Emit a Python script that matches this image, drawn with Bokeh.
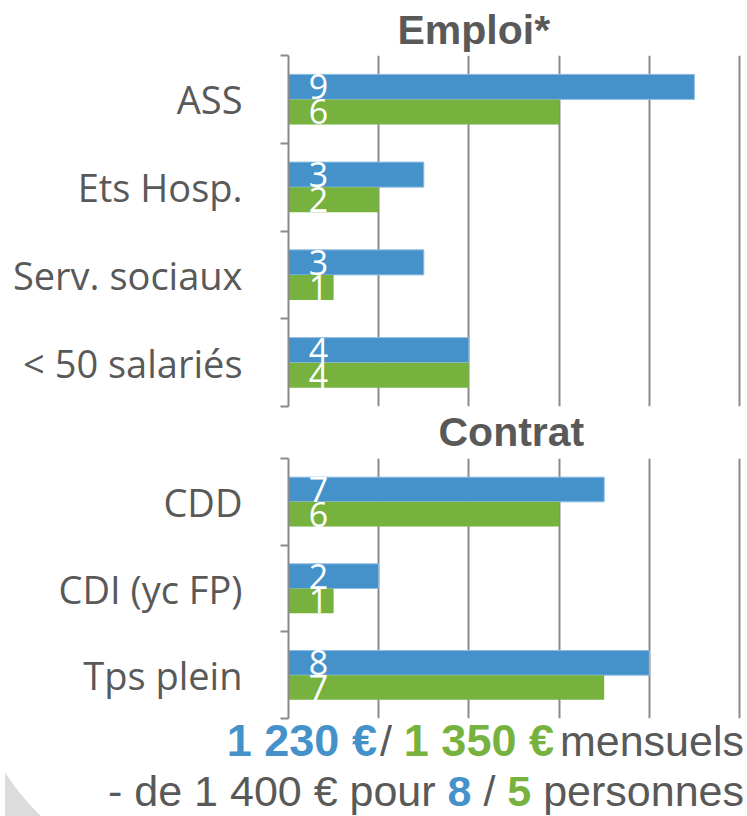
from bokeh.plotting import figure
from bokeh.models import FixedTicker, Range1d, ColumnDataSource, Div, Title
from bokeh.layouts import column
from bokeh.core.properties import value
from bokeh.embed import file_html
from bokeh.resources import INLINE

# ---------------- data ----------------
emploi_cats = ["ASS", "Ets Hosp.", "Serv. sociaux", "< 50 salariés"]
emploi_blue = [9, 3, 3, 4]
emploi_green = [6, 2, 1, 4]

contrat_cats = ["CDD", "CDI (yc FP)", "Tps plein"]
contrat_blue = [7, 2, 8]
contrat_green = [6, 1, 7]

grid_ticks = [2, 4, 6, 8, 10]

salaire_bleu = "1 230 €"
salaire_vert = "1 350 €"
nb_bleu = "8"
nb_vert = "5"

BLUE = "#4592CA"
GREEN = "#77B23F"
GRAY_TXT = "#595959"
GRID = "#8a8a8a"
W = 747
LEFT = 288
RIGHT = 6


def style_title(t, offset, standoff):
    t.align = "left"
    t.offset = offset
    t.standoff = standoff
    t.text_font = "Liberation Sans"
    t.text_font_size = "41px"
    t.text_font_style = "bold"
    t.text_color = GRAY_TXT


def panel(cats, blue, green, title, top, frame_h, bottom):
    n = len(cats)
    frame_w = W - LEFT - RIGHT
    xend = frame_w / 45.1
    p = figure(width=W, height=top + frame_h + bottom, x_range=Range1d(0, xend),
               y_range=Range1d(0, n), output_backend="svg", toolbar_location=None,
               min_border_left=LEFT, min_border_right=RIGHT, min_border_top=top,
               min_border_bottom=bottom, title=title)
    p.outline_line_color = None

    centers = [n - 1 - i + 0.5 for i in range(n)]
    hb = 0.285
    src = ColumnDataSource(dict(
        yb=[c + hb / 2 for c in centers], yg=[c - hb / 2 for c in centers],
        blue=blue, green=green,
        tb=[str(v) for v in blue], tg=[str(v) for v in green],
        x0=[0] * n))
    p.hbar(y="yb", right="blue", left=0, height=hb, source=src,
           fill_color=BLUE, line_color="#8fbde3", line_width=1)
    p.hbar(y="yg", right="green", left=0, height=hb, source=src,
           fill_color=GREEN, line_color=None)
    for ycol, tcol in (("yb", "tb"), ("yg", "tg")):
        p.text(x="x0", y=ycol, text=tcol, source=src, x_offset=30,
               text_align="center", text_baseline="middle",
               text_font=value("Open Sans"), text_font_size="34px",
               text_color="white")

    p.xaxis.visible = False
    p.xgrid.ticker = FixedTicker(ticks=grid_ticks)
    p.xgrid.grid_line_color = GRID
    p.xgrid.grid_line_width = 2
    p.ygrid.visible = False

    ax = p.yaxis[0]
    ax.ticker = FixedTicker(ticks=centers, minor_ticks=list(range(n + 1)))
    ax.major_label_overrides = {c: cat for c, cat in zip(centers, cats)}
    ax.major_tick_out = 0
    ax.major_tick_in = 0
    ax.minor_tick_out = 8
    ax.minor_tick_in = 0
    ax.minor_tick_line_color = GRID
    ax.minor_tick_line_width = 2
    ax.axis_line_color = GRID
    ax.axis_line_width = 2
    ax.major_label_standoff = 38
    ax.major_label_text_font = "Open Sans"
    ax.major_label_text_font_size = "38px"
    ax.major_label_text_color = GRAY_TXT
    return p


# top panel carries both section titles: "Emploi*" above, "Contrat" below
p1 = panel(emploi_cats, emploi_blue, emploi_green, "Emploi*", 55, 351, 51)
style_title(p1.title, 109, 5)
t2 = Title(text="Contrat")
style_title(t2, 150, 0)
p1.add_layout(t2, "below")

p2 = panel(contrat_cats, contrat_blue, contrat_green, None, 1, 260, 2)

# ---------------- bottom text ----------------
H_TXT = 96
html = f"""
<div style="position:relative;width:{W}px;height:{H_TXT}px;
     font-family:'Liberation Sans',Arial,sans-serif;font-size:43px;color:{GRAY_TXT};">
  <div style="position:absolute;left:0;top:0;width:{W}px;height:{H_TXT}px;overflow:hidden;">
    <div style="position:absolute;left:0;top:40px;width:70px;height:56px;background:#dcdcdc;"></div>
    <div style="position:absolute;left:-37px;top:-317px;width:474px;height:474px;
         border-radius:50%;background:white;"></div>
  </div>
  <div style="position:absolute;right:8px;top:-6px;line-height:43px;white-space:nowrap;">
    <b style="color:{BLUE};font-size:45px">{salaire_bleu}</b><span style="margin-left:3px">/&nbsp;</span><b
      style="color:{GREEN};font-size:45px">{salaire_vert}</b><span style="margin-left:6px">mensuels</span>
  </div>
  <div style="position:absolute;right:8px;top:45px;line-height:43px;white-space:nowrap;">- de 1 400 € pour <b
      style="color:{BLUE}">{nb_bleu}</b> / <b style="color:{GREEN}">{nb_vert}</b> personnes</div>
</div>
"""
txt = Div(text=html, width=W, height=H_TXT)

layout = column(p1, p2, txt, spacing=0)
open("out.html", "w").write(file_html(layout, INLINE))
